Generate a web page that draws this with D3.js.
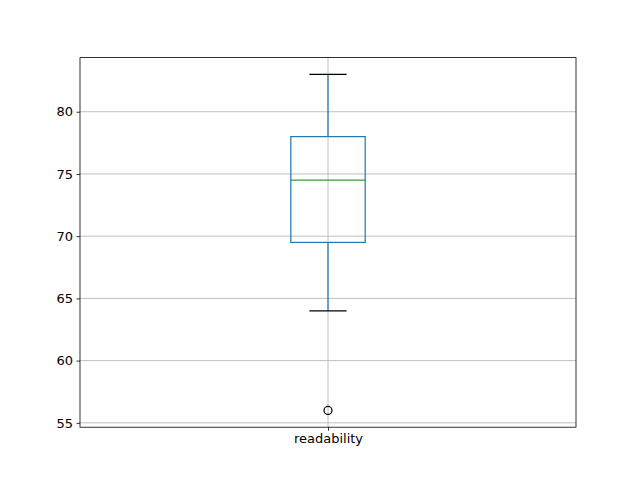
<!DOCTYPE html>
<html>
<head>
<meta charset="utf-8">
<script src="https://cdn.jsdelivr.net/npm/d3@7"></script>
<style>
  body { margin: 0; background: #fff; }
  text { font-family: "DejaVu Sans", sans-serif; }
</style>
</head>
<body>
<div id="chart"></div>
<script>
// data
var categories = ["readability"];
var whiskerLow = [64];
var q1 = [69.5];
var median = [74.5];
var q3 = [78];
var whiskerHigh = [83];
var outliers = [[56]];
var yTicks = [55, 60, 65, 70, 75, 80];

var margin = { top: 57.6, left: 80, right: 64, bottom: 52.8 },
  width = 640 - margin.left - margin.right,
  height = 480 - margin.top - margin.bottom;

var svg = d3.select("#chart")
  .append("svg")
  .attr("width", 640)
  .attr("height", 480)
  .append("g")
  .attr("transform", "translate(" + margin.left + "," + margin.top + ")");

var xPos = d3.scaleLinear().domain([0.5, categories.length + 0.5]).range([0, width]);
var yPos = d3.scaleLinear().domain([54.65, 84.35]).range([height, 0]);

// grid
svg.selectAll(".hgrid")
  .data(yTicks)
  .enter()
  .append("line")
  .attr("x1", 0).attr("x2", width)
  .attr("y1", function(d) { return yPos(d); })
  .attr("y2", function(d) { return yPos(d); })
  .attr("stroke", "#b0b0b0").attr("stroke-width", 0.8);

svg.selectAll(".vgrid")
  .data(categories)
  .enter()
  .append("line")
  .attr("x1", function(d, i) { return xPos(i + 1); })
  .attr("x2", function(d, i) { return xPos(i + 1); })
  .attr("y1", 0).attr("y2", height)
  .attr("stroke", "#b0b0b0").attr("stroke-width", 0.8);

var boxHalf = 0.075, capHalf = 0.0375;
var blue = "#1f77b4";

categories.forEach(function(c, i) {
  var cx = xPos(i + 1);
  var g = svg.append("g");
  // whiskers
  g.append("line")
    .attr("x1", cx).attr("x2", cx)
    .attr("y1", yPos(q1[i])).attr("y2", yPos(whiskerLow[i]))
    .attr("stroke", blue).attr("stroke-width", 1.2);
  g.append("line")
    .attr("x1", cx).attr("x2", cx)
    .attr("y1", yPos(q3[i])).attr("y2", yPos(whiskerHigh[i]))
    .attr("stroke", blue).attr("stroke-width", 1.2);
  // caps
  [whiskerLow[i], whiskerHigh[i]].forEach(function(v) {
    g.append("line")
      .attr("x1", xPos(i + 1 - capHalf)).attr("x2", xPos(i + 1 + capHalf))
      .attr("y1", yPos(v)).attr("y2", yPos(v))
      .attr("stroke", "#000").attr("stroke-width", 1.2);
  });
  // box
  g.append("rect")
    .attr("x", xPos(i + 1 - boxHalf))
    .attr("width", xPos(i + 1 + boxHalf) - xPos(i + 1 - boxHalf))
    .attr("y", yPos(q3[i]))
    .attr("height", yPos(q1[i]) - yPos(q3[i]))
    .attr("fill", "none")
    .attr("stroke", blue).attr("stroke-width", 1.2);
  // median
  g.append("line")
    .attr("x1", xPos(i + 1 - boxHalf)).attr("x2", xPos(i + 1 + boxHalf))
    .attr("y1", yPos(median[i])).attr("y2", yPos(median[i]))
    .attr("stroke", "#2ca02c").attr("stroke-width", 1.2);
  // outliers
  g.selectAll("circle")
    .data(outliers[i])
    .enter()
    .append("circle")
    .attr("cx", cx)
    .attr("cy", function(d) { return yPos(d); })
    .attr("r", 4)
    .attr("fill", "none")
    .attr("stroke", "#000").attr("stroke-width", 1.2);
});

// axes
var xAxis = d3.axisBottom(xPos)
  .tickValues(categories.map(function(d, i) { return i + 1; }))
  .tickFormat(function(d) { return categories[d - 1]; })
  .tickSize(3.5).tickPadding(3.5);
svg.append("g")
  .attr("class", "axis x-axis")
  .attr("transform", "translate(0," + height + ")")
  .call(xAxis);

var yAxis = d3.axisLeft(yPos).tickValues(yTicks).tickSize(3.5).tickPadding(3.5);
svg.append("g")
  .attr("class", "axis y-axis")
  .call(yAxis);

svg.selectAll(".axis .domain").remove();
svg.selectAll(".axis text").attr("font-size", 13).attr("fill", "#000").attr("font-family", "DejaVu Sans");
svg.selectAll(".axis line").attr("stroke", "#000").attr("stroke-width", 0.8);

// frame
svg.append("rect")
  .attr("width", width).attr("height", height)
  .attr("fill", "none").attr("stroke", "#000").attr("stroke-width", 0.8);
</script>
</body>
</html>
